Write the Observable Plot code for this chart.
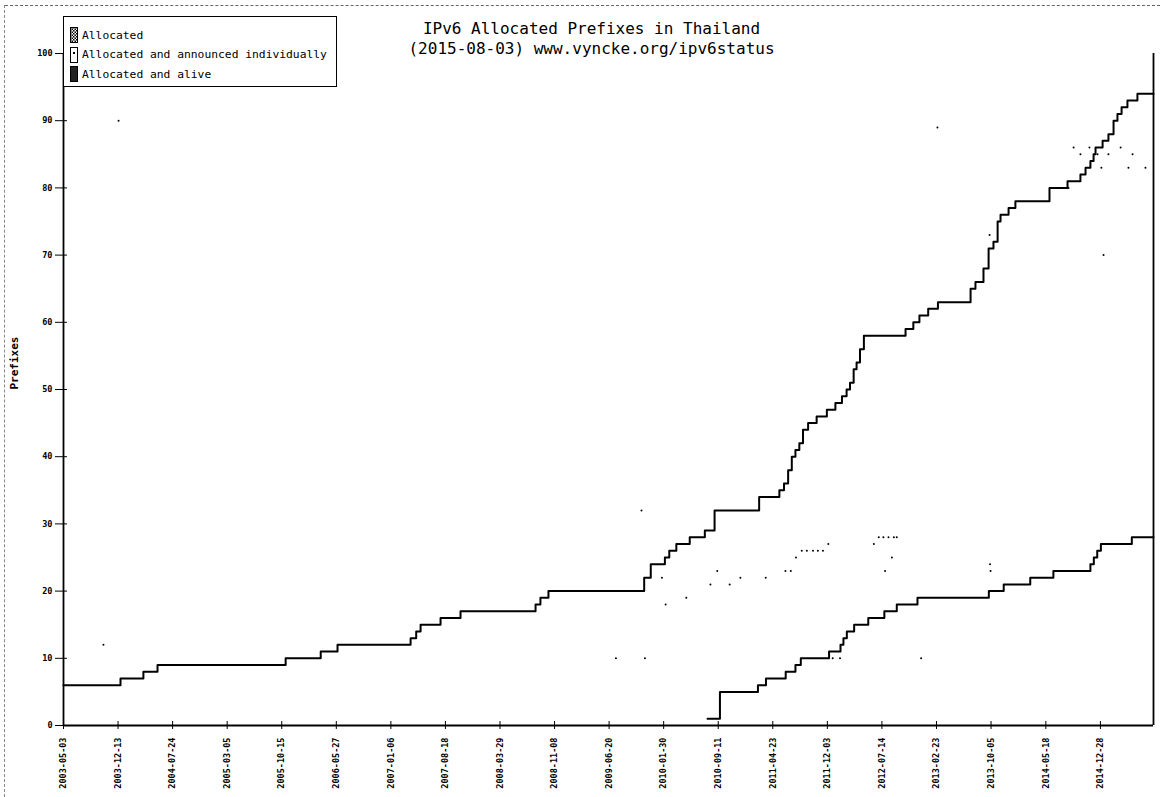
<!DOCTYPE html>
<html>
<head>
<meta charset="utf-8">
<script src="https://cdn.jsdelivr.net/npm/d3@7"></script>
<script src="https://cdn.jsdelivr.net/npm/@observablehq/plot@0.6"></script>
<style>
  body { margin: 0; background: #fff; }
  #wrap { position: relative; width: 1160px; height: 797px; overflow: hidden; }
  #page-top { position: absolute; left: 5px; top: 5px; width: 1155px; border-top: 1px dashed #666; }
  #page-left { position: absolute; left: 4px; top: 5px; height: 792px; border-left: 1px dashed #888; }
  #legend { position: absolute; left: 63px; top: 16px; width: 274px; height: 71px; border: 1px solid #000;
            background: #fff; font-family: "DejaVu Sans Mono", monospace; font-size: 11.3px; color: #000; box-sizing: border-box; }
  .item { position: absolute; left: 6px; height: 16px; display: flex; align-items: center; white-space: nowrap; }
  .item svg { margin-right: 4px; }
</style>
</head>
<body>
<div id="wrap">
  <div id="page-top"></div>
  <div id="page-left"></div>
  <div id="chart"></div>
  <div id="legend"></div>
</div>
<script>
// ---- data ----
const titleLines = ["IPv6 Allocated Prefixes in Thailand", "(2015-08-03) www.vyncke.org/ipv6status"];
const yLabel = "Prefixes";
const seriesNames = ["Allocated", "Allocated and announced individually", "Allocated and alive"];
const xDomain = ["2003-05-03", "2015-08-03"];
const xTickLabels = ["2003-05-03","2003-12-13","2004-07-24","2005-03-05","2005-10-15","2006-05-27","2007-01-06",
  "2007-08-18","2008-03-29","2008-11-08","2009-06-20","2010-01-30","2010-09-11","2011-04-23","2011-12-03",
  "2012-07-14","2013-02-23","2013-10-05","2014-05-18","2014-12-28"];
const yTicks = [0, 10, 20, 30, 40, 50, 60, 70, 80, 90, 100];

const allocatedDates = ["2003-05-03","2003-12-23","2004-03-26","2004-05-23","2005-10-31","2006-03-24","2006-06-01",
  "2007-03-28","2007-04-20","2007-05-08","2007-07-29","2007-10-19","2008-08-22","2008-09-11","2008-10-14",
  "2009-11-11","2009-12-08","2010-02-04","2010-02-22","2010-03-23","2010-05-17","2010-07-18","2010-08-27",
  "2011-02-26","2011-05-20","2011-06-08","2011-06-25","2011-07-10","2011-07-25","2011-08-10","2011-08-25",
  "2011-09-15","2011-10-20","2011-12-01","2012-01-05","2012-02-01","2012-02-20","2012-03-05","2012-03-20",
  "2012-04-01","2012-04-15","2012-05-01","2012-10-19","2012-11-20","2012-12-15","2013-01-20","2013-03-01",
  "2013-07-13","2013-08-02","2013-09-04","2013-09-25","2013-10-15","2013-11-01","2013-11-13","2013-12-16",
  "2014-01-13","2014-06-02","2014-08-15","2014-10-07","2014-10-28","2014-11-17","2014-11-30","2014-12-08",
  "2015-01-06","2015-01-30","2015-02-20","2015-03-08","2015-03-25","2015-04-18","2015-05-29","2015-08-03"];
const allocatedValues = [6,7,8,9,10,11,12,
  13,14,15,16,17,18,19,20,
  22,24,25,26,27,28,29,32,
  34,35,36,38,40,41,42,44,
  45,46,47,48,49,50,51,53,
  54,56,58,59,60,61,62,63,
  65,66,68,71,72,75,76,77,
  78,80,81,82,83,84,85,86,
  87,88,90,91,92,93,94,94];

const aliveDates = ["2010-07-29","2010-09-18","2011-02-21","2011-03-26","2011-06-15","2011-07-25","2011-08-16",
  "2011-12-10","2012-01-26","2012-02-07","2012-02-21","2012-03-22","2012-05-19","2012-07-24","2012-09-13",
  "2012-12-07","2013-09-26","2013-11-26","2014-03-15","2014-06-18","2014-11-17","2014-12-01","2014-12-15",
  "2014-12-30","2015-05-06","2015-08-03"];
const aliveValues = [1,5,6,7,8,9,10,
  11,12,13,14,15,16,17,18,
  19,20,21,22,23,24,25,26,
  27,28,28];

const announcedDates = ["2003-10-14","2003-12-15","2009-07-18","2009-10-31","2009-11-14","2010-01-23","2010-02-07",
  "2010-05-03","2010-08-10","2010-09-07","2010-10-28","2010-12-11","2011-03-25","2011-06-14","2011-07-06",
  "2011-07-27","2011-08-20","2011-09-10","2011-10-05","2011-10-25","2011-11-15","2011-12-07","2011-12-25",
  "2012-01-24","2012-06-11","2012-07-01","2012-07-20","2012-07-27","2012-08-10","2012-08-24","2012-09-01",
  "2012-09-13","2012-12-22","2013-02-27","2013-09-29","2013-10-01","2013-10-03","2014-08-19","2014-09-09",
  "2014-10-07","2014-11-13","2014-12-16","2015-01-01","2015-01-10","2015-01-30","2015-03-21","2015-04-22",
  "2015-05-09","2015-07-01"];
const announcedValues = [12,90,10,32,10,22,18,
  19,21,23,21,22,22,23,23,
  25,26,26,26,26,26,27,10,
  10,27,28,28,23,28,25,28,
  28,10,89,73,24,23,80,86,
  85,86,85,83,70,85,86,83,
  85,83];

// ---- chart ----
const W = 1160, H = 797, mL = 63, mR = 7, mT = 53, mB = 72;
const parse = d3.utcParse("%Y-%m-%d");
const rows = (ds, vs) => ds.map((d, i) => ({date: parse(d), value: vs[i]}));
const allocated = rows(allocatedDates, allocatedValues);
const alive = rows(aliveDates, aliveValues);
const announced = rows(announcedDates, announcedValues);
const xTicks = xTickLabels.map(parse);
const xEnds = xDomain.map(parse);

const chart = Plot.plot({
  width: W, height: H,
  marginTop: mT, marginBottom: mB, marginLeft: mL, marginRight: mR,
  style: {fontFamily: "'DejaVu Sans Mono', monospace", fontSize: "8.5px", fontWeight: "bold", background: "transparent", color: "#000"},
  x: {type: "utc", domain: xEnds},
  y: {domain: [yTicks[0], yTicks[yTicks.length - 1]]},
  marks: [
    Plot.axisX({ticks: xTicks, tickFormat: d3.utcFormat("%Y-%m-%d"), tickRotate: -90, tickSize: 4, tickPadding: 8, label: null}),
    Plot.tickX(xTicks, {x: d => d, insetTop: (H - mT - mB) - 4, stroke: "#000"}),
    Plot.axisY({ticks: yTicks, tickSize: 8, tickPadding: 3, label: null}),
    Plot.tickY(yTicks, {y: d => d, insetRight: (W - mL - mR) - 4, stroke: "#000"}),
    Plot.ruleX(xEnds, {stroke: "#000", strokeWidth: 1.8}),
    Plot.ruleY([yTicks[0]], {stroke: "#000", strokeWidth: 1.8}),
    Plot.line(allocated, {x: "date", y: "value", curve: "step-after", stroke: "#000", strokeWidth: 2}),
    Plot.line(alive, {x: "date", y: "value", curve: "step-after", stroke: "#000", strokeWidth: 2}),
    Plot.dot(announced, {x: "date", y: "value", r: 1, fill: "#000", stroke: null}),
    Plot.text([titleLines[0]], {text: d => d, frameAnchor: "top", dx: -17, dy: -31, fontSize: 16, fontWeight: "normal"}),
    Plot.text([titleLines[1]], {text: d => d, frameAnchor: "top", dx: -17, dy: -11, fontSize: 16, fontWeight: "normal"}),
    Plot.text([yLabel], {text: d => d, frameAnchor: "left", rotate: -90, dx: -49, fontSize: 11, fontWeight: "bold"})
  ]
});
document.getElementById("chart").appendChild(chart);

// ---- legend ----
const swatches = [
  '<svg width="8" height="16"><defs><pattern id="hatch" width="3" height="3" patternUnits="userSpaceOnUse"><rect width="3" height="3" fill="#fff"/><rect width="1.5" height="1.5" fill="#000"/><rect x="1.5" y="1.5" width="1.5" height="1.5" fill="#000"/></pattern></defs><rect x="0.5" y="0.5" width="7" height="15" fill="url(#hatch)" stroke="#000"/></svg>',
  '<svg width="8" height="16"><rect x="0.5" y="0.5" width="7" height="15" fill="#fff" stroke="#000"/><rect x="3" y="5" width="2" height="2" fill="#000"/></svg>',
  '<svg width="8" height="16"><rect x="0.5" y="0.5" width="7" height="15" fill="#222" stroke="#000"/></svg>'
];
const legend = document.getElementById("legend");
seriesNames.forEach((name, i) => {
  const div = document.createElement("div");
  div.className = "item";
  div.style.top = (10 + i * 19.5) + "px";
  div.innerHTML = swatches[i] + "<span>" + name + "</span>";
  legend.appendChild(div);
});
</script>
</body>
</html>
